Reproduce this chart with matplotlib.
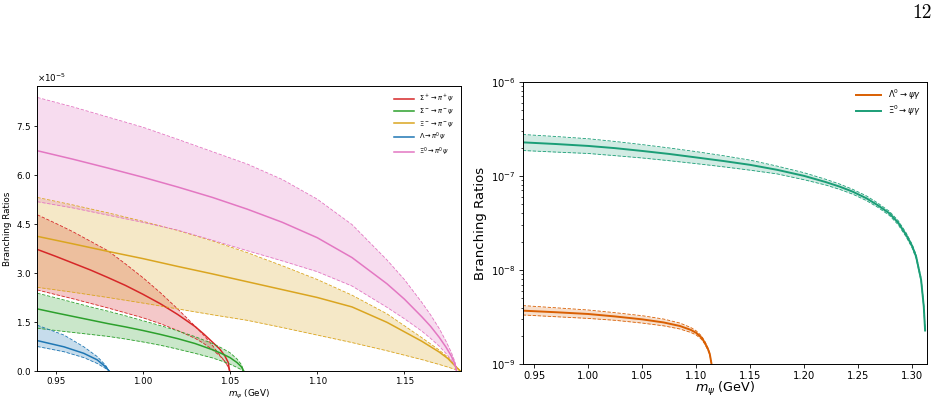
import numpy as np
import matplotlib
matplotlib.use("Agg")
import matplotlib.pyplot as plt
from matplotlib.ticker import ScalarFormatter

# ---------------- Left panel data (branching ratios in units of 1e-5) ----------------
sp_x = [0.9395, 0.95, 0.96, 0.97, 0.98, 0.99, 1.00, 1.01, 1.02, 1.03, 1.035, 1.04, 1.044, 1.047, 1.049, 1.0498]
sp_c = [3.72, 3.51, 3.30, 3.09, 2.86, 2.62, 2.35, 2.06, 1.73, 1.36, 1.13, 0.88, 0.68, 0.47, 0.26, 0.0]
sp_u = [4.78, 4.52, 4.26, 3.97, 3.68, 3.28, 2.86, 2.40, 1.90, 1.37, 1.09, 0.78, 0.50, 0.30, 0.12, 0.0]
sp_l = [2.48, 2.34, 2.21, 2.07, 1.93, 1.78, 1.63, 1.45, 1.24, 1.00, 0.84, 0.65, 0.47, 0.30, 0.13, 0.0]

sm_x = [0.9395, 0.95, 0.96, 0.97, 0.98, 0.99, 1.00, 1.01, 1.02, 1.03, 1.04, 1.045, 1.05, 1.054, 1.0565, 1.0579]
sm_c = [1.90, 1.78, 1.67, 1.56, 1.45, 1.35, 1.24, 1.12, 0.99, 0.84, 0.65, 0.54, 0.41, 0.26, 0.13, 0.0]
sm_u = [2.38, 2.24, 2.10, 1.96, 1.83, 1.69, 1.54, 1.39, 1.23, 1.05, 0.84, 0.71, 0.56, 0.37, 0.20, 0.0]
sm_l = [1.31, 1.24, 1.18, 1.12, 1.06, 0.98, 0.89, 0.79, 0.67, 0.54, 0.40, 0.31, 0.21, 0.11, 0.04, 0.0]

xm_x = [0.9395, 0.96, 0.98, 1.00, 1.02, 1.04, 1.06, 1.08, 1.10, 1.12, 1.14, 1.16, 1.17, 1.175, 1.179, 1.1821]
xm_c = [4.12, 3.89, 3.66, 3.44, 3.20, 2.97, 2.73, 2.49, 2.25, 1.96, 1.49, 0.91, 0.58, 0.38, 0.16, 0.0]
xm_u = [5.31, 5.08, 4.84, 4.58, 4.30, 3.98, 3.62, 3.22, 2.80, 2.32, 1.75, 1.02, 0.64, 0.42, 0.18, 0.0]
xm_l = [2.56, 2.41, 2.25, 2.08, 1.90, 1.72, 1.55, 1.33, 1.10, 0.87, 0.62, 0.35, 0.20, 0.12, 0.05, 0.0]

la_x = [0.9395, 0.9548, 0.9662, 0.9739, 0.9786, 0.9807]
la_c = [0.93, 0.74, 0.54, 0.34, 0.13, 0.0]
la_u = [1.40, 1.10, 0.74, 0.44, 0.18, 0.0]
la_l = [0.75, 0.59, 0.41, 0.23, 0.08, 0.0]

x0_x = [0.9395, 0.96, 0.98, 1.00, 1.02, 1.04, 1.06, 1.08, 1.10, 1.12, 1.14, 1.15, 1.16, 1.165, 1.17, 1.174, 1.177, 1.179, 1.1799]
x0_c = [6.74, 6.48, 6.21, 5.93, 5.63, 5.31, 4.95, 4.55, 4.08, 3.47, 2.67, 2.20, 1.66, 1.37, 1.03, 0.72, 0.45, 0.22, 0.0]
x0_u = [8.37, 8.08, 7.77, 7.46, 7.09, 6.71, 6.33, 5.86, 5.26, 4.48, 3.40, 2.80, 2.10, 1.72, 1.30, 0.90, 0.56, 0.28, 0.0]
x0_l = [5.18, 4.99, 4.77, 4.55, 4.31, 4.00, 3.68, 3.37, 3.04, 2.60, 1.95, 1.60, 1.22, 1.00, 0.76, 0.53, 0.33, 0.16, 0.0]

left_labels = [r"$\Sigma^+\rightarrow\pi^+\psi$", r"$\Sigma^-\rightarrow\pi^-\psi$",
               r"$\Xi^-\rightarrow\pi^-\psi$", r"$\Lambda\rightarrow\pi^0\psi$",
               r"$\Xi^0\rightarrow\pi^0\psi$"]
left_colors = ["#d62728", "#2ca02c", "#daa520", "#1f77b4", "#e377c2"]
left_yticks = [0.0, 1.5, 3.0, 4.5, 6.0, 7.5]
left_xticks = [0.95, 1.00, 1.05, 1.10, 1.15]

# ---------------- Right panel data ----------------
gx = [0.9395, 0.97, 1.00, 1.025, 1.05, 1.075, 1.10, 1.125, 1.15, 1.175, 1.20, 1.22, 1.2328, 1.245,
      1.2575, 1.268, 1.279, 1.287, 1.2945, 1.30, 1.3037, 1.3083, 1.3108, 1.312]
gc = [2.27e-7, 2.18e-7, 2.08e-7, 1.97e-7, 1.84e-7, 1.71e-7, 1.57e-7, 1.44e-7, 1.31e-7, 1.16e-7, 1.0e-7,
      0.86e-7, 7.7e-8, 6.8e-8, 5.8e-8, 4.9e-8, 4.0e-8, 3.2e-8, 2.36e-8, 1.8e-8, 1.39e-8, 7.9e-9, 4.1e-9, 2.3e-9]
gu = [2.75e-7, 2.62e-7, 2.48e-7, 2.32e-7, 2.15e-7, 1.98e-7, 1.81e-7, 1.64e-7, 1.47e-7, 1.27e-7, 1.08e-7,
      0.92e-7, 8.2e-8, 7.2e-8, 6.15e-8, 5.17e-8, 4.2e-8, 3.36e-8, 2.48e-8, 1.88e-8, 1.45e-8, 8.2e-9, 4.26e-9, 2.39e-9]
gl = [1.86e-7, 1.79e-7, 1.73e-7, 1.64e-7, 1.55e-7, 1.45e-7, 1.35e-7, 1.25e-7, 1.15e-7, 1.05e-7, 0.91e-7,
      0.80e-7, 7.2e-8, 6.4e-8, 5.48e-8, 4.66e-8, 3.8e-8, 3.04e-8, 2.25e-8, 1.72e-8, 1.33e-8, 7.6e-9, 3.94e-9, 2.21e-9]

ox = [0.9395, 0.97, 1.00, 1.025, 1.05, 1.07, 1.085, 1.095, 1.10, 1.105, 1.108, 1.111, 1.1127, 1.1142, 1.1148, 1.1155]
oc = [3.71e-9, 3.57e-9, 3.42e-9, 3.22e-9, 3.0e-9, 2.78e-9, 2.55e-9, 2.32e-9, 2.16e-9, 1.92e-9, 1.70e-9,
      1.45e-9, 1.28e-9, 1.02e-9, 7e-10, 2e-10]
ou = [4.2e-9, 3.98e-9, 3.77e-9, 3.53e-9, 3.28e-9, 3.02e-9, 2.74e-9, 2.46e-9, 2.27e-9, 2.0e-9, 1.76e-9,
      1.49e-9, 1.31e-9, 1.04e-9, 7.1e-10, 2e-10]
ol = [3.34e-9, 3.20e-9, 3.07e-9, 2.93e-9, 2.74e-9, 2.56e-9, 2.37e-9, 2.18e-9, 2.05e-9, 1.84e-9, 1.64e-9,
      1.41e-9, 1.25e-9, 1.0e-9, 6.9e-10, 2e-10]

right_labels = [r"$\Lambda^0\rightarrow\psi\gamma$", r"$\Xi^0\rightarrow\psi\gamma$"]
right_colors = ["#d95f02", "#1b9e77"]
right_xticks = [0.95, 1.00, 1.05, 1.10, 1.15, 1.20, 1.25, 1.30]

# ---------------- Figure ----------------
fig = plt.figure(figsize=(9.39, 4.04), dpi=100)

axL = fig.add_axes([0.0397, 0.0817, 0.4509, 0.7054])
series = [(sp_x, sp_c, sp_u, sp_l), (sm_x, sm_c, sm_u, sm_l), (xm_x, xm_c, xm_u, xm_l),
          (la_x, la_c, la_u, la_l), (x0_x, x0_c, x0_u, x0_l)]
for (x, c, u, l), col, lab in zip(series, left_colors, left_labels):
    x = np.array(x); c = np.array(c) * 1e-5; u = np.array(u) * 1e-5; l = np.array(l) * 1e-5
    axL.fill_between(x, l, u, color=col, alpha=0.25, lw=0)
    axL.plot(x, c, color=col, lw=1.1, label=lab)
    axL.plot(x, u, color=col, lw=0.6, ls=(0, (4, 2)))
    axL.plot(x, l, color=col, lw=0.6, ls=(0, (4, 2)))
axL.set_xlim(0.9395, 1.1823)
axL.set_ylim(0, 8.72e-5)
axL.set_yticks([v * 1e-5 for v in left_yticks])
fmt = ScalarFormatter(useMathText=True)
fmt.set_powerlimits((0, 0))
axL.yaxis.set_major_formatter(fmt)
axL.set_xticks(left_xticks)
axL.tick_params(labelsize=6.3, length=2.5, width=0.6, pad=2)
axL.yaxis.get_offset_text().set_fontsize(6.3)
axL.xaxis.get_offset_text().set_visible(False)
for s in axL.spines.values():
    s.set_linewidth(0.7)
axL.set_xlabel(r"$m_\psi$ (GeV)", fontsize=6.3, labelpad=1)
axL.set_ylabel("Branching Ratios", fontsize=6.3, labelpad=3)
axL.legend(loc="upper right", frameon=False, fontsize=4.8, handlelength=3.0,
           labelspacing=0.35, borderaxespad=0.6)

axR = fig.add_axes([0.5567, 0.0983, 0.4302, 0.6995])
for (x, c, u, l), col, lab in zip([(ox, oc, ou, ol), (gx, gc, gu, gl)], right_colors, right_labels):
    axR.fill_between(x, l, u, color=col, alpha=0.2, lw=0)
    axR.plot(x, c, color=col, lw=1.4, label=lab)
    axR.plot(x, u, color=col, lw=0.6, ls=(0, (4, 2)))
    axR.plot(x, l, color=col, lw=0.6, ls=(0, (4, 2)))
axR.set_yscale("log")
axR.set_xlim(0.9395, 1.3135)
axR.set_ylim(1e-9, 1e-6)
axR.set_xticks(right_xticks)
axR.tick_params(labelsize=7.2, length=3, width=0.6, pad=2)
axR.tick_params(which="minor", length=1.8, width=0.5)
axR.xaxis.get_offset_text().set_visible(False)
axR.yaxis.get_offset_text().set_visible(False)
for s in axR.spines.values():
    s.set_linewidth(0.7)
axR.set_xlabel(r"$m_\psi$ (GeV)", fontsize=9.2, labelpad=-1)
axR.set_ylabel("Branching Ratios", fontsize=9.5, labelpad=3)
axR.legend(loc="upper right", frameon=False, fontsize=6.0, handlelength=3.0,
           labelspacing=0.25, borderaxespad=0.3)

fig.text(0.982, 0.968, "12", fontsize=14, family="cmr10", ha="center", va="center")

fig.savefig("out.png", dpi=100)
